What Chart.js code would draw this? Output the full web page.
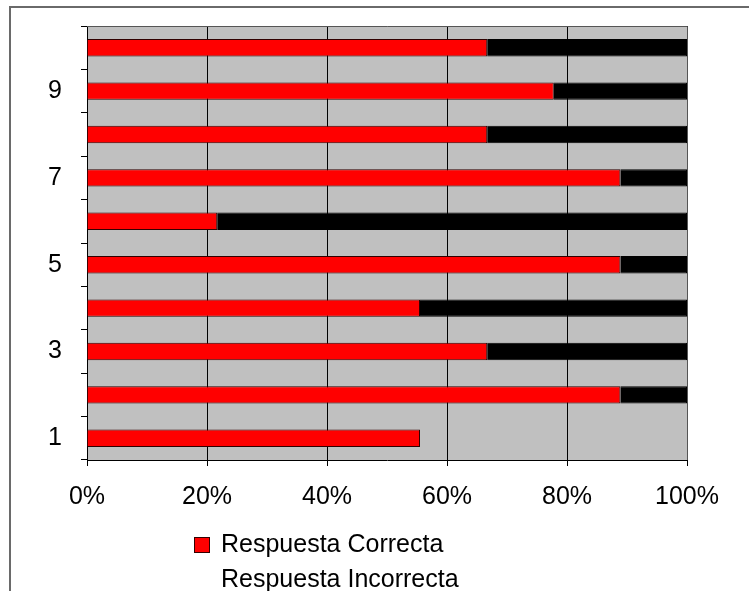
<!DOCTYPE html>
<html>
<head>
<meta charset="utf-8">
<script src="https://cdn.jsdelivr.net/npm/chart.js@4"></script>
<style>
  body { margin: 0; background: #fff; font-family: "Liberation Sans", Arial, sans-serif; }
  #wrap { position: relative; width: 749px; height: 591px; overflow: hidden; }
  #frame { position: absolute; left: 9px; top: 6px; width: 760px; height: 600px;
           border-top: 2px solid #6a6a6a; border-left: 2px solid #6a6a6a; }
  canvas { position: absolute; left: 0; top: 0; }
  .leg { position: absolute; left: 221px; font-size: 25px; color: #000; line-height: 35px; white-space: nowrap; }
  .box { position: absolute; left: 194px; top: 537px; width: 14px; height: 14px;
         background: #ff0000; border: 1px solid #300; }
</style>
</head>
<body>
<div id="wrap">
  <div id="frame"></div>
  <canvas id="chart" width="749" height="591"></canvas>
  <div class="box"></div>
  <div class="leg" style="top:526px">Respuesta Correcta</div>
  <div class="leg" style="top:561px">Respuesta Incorrecta</div>
</div>
<script>
var categories = ["1", "2", "3", "4", "5", "6", "7", "8", "9", "10"];
var correctas = [55.5, 88.9, 66.7, 55.5, 88.9, 21.7, 88.9, 66.7, 77.8, 66.7];
var incorrectas = [0, 11.1, 33.3, 44.5, 11.1, 78.3, 11.1, 33.3, 22.2, 33.3];
var xTicks = [0, 20, 40, 60, 80, 100];

var plotBg = {
    id: 'plotBg',
    beforeDraw: function (chart) {
        var a = chart.chartArea, ctx = chart.ctx;
        ctx.save();
        ctx.fillStyle = '#c0c0c0';
        ctx.fillRect(a.left, a.top, a.right - a.left, a.bottom - a.top);
        ctx.restore();
    },
    afterDatasetsDraw: function (chart) {
        var a = chart.chartArea, ctx = chart.ctx;
        ctx.save();
        ctx.strokeStyle = '#555';
        ctx.lineWidth = 1;
        ctx.beginPath();
        ctx.moveTo(a.left, a.top + 0.5);
        ctx.lineTo(a.right + 0.5, a.top + 0.5);
        ctx.lineTo(a.right + 0.5, a.bottom);
        ctx.stroke();
        ctx.restore();
    }
};

new Chart('chart', {
    type: 'bar',
    plugins: [plotBg],
    data: {
        labels: categories,
        datasets: [{
            label: "Respuesta Correcta",
            data: correctas,
            backgroundColor: "#ff0000",
            borderColor: "#300000",
            borderWidth: 1,
            barPercentage: 0.4,
            categoryPercentage: 1
        }, {
            label: "Respuesta Incorrecta",
            data: incorrectas,
            backgroundColor: "#000000",
            borderColor: "#000000",
            borderWidth: 1,
            barPercentage: 0.4,
            categoryPercentage: 1
        }]
    },
    options: {
        indexAxis: 'y',
        responsive: false,
        animation: false,
        layout: { padding: { left: 0, top: 26, right: 62, bottom: 71 } },
        scales: {
            x: {
                stacked: true,
                min: 0,
                max: 100,
                afterFit: function (s) { s.height = 60; s.paddingLeft = 0; s.paddingRight = 0; },
                afterBuildTicks: function (s) {
                    s.ticks = xTicks.map(function (v) { return { value: v }; });
                },
                grid: {
                    color: '#000',
                    lineWidth: 1,
                    tickLength: 6,
                    drawOnChartArea: true
                },
                border: { color: '#000', width: 1 },
                ticks: {
                    padding: 16,
                    color: '#000',
                    font: { family: 'Liberation Sans', size: 25 },
                    callback: function (v) { return v + '%'; }
                }
            },
            y: {
                stacked: true,
                reverse: true,
                afterFit: function (s) { s.width = 87; s.paddingTop = 0; s.paddingBottom = 0; },
                grid: {
                    offset: true,
                    drawOnChartArea: false,
                    color: '#000',
                    tickLength: 6
                },
                border: { color: '#000', width: 1 },
                ticks: {
                    padding: 19,
                    color: '#000',
                    font: { family: 'Liberation Sans', size: 25 },
                    callback: function (v, i) { return i % 2 === 0 ? categories[i] : ''; }
                }
            }
        },
        plugins: {
            legend: { display: false },
            tooltip: { enabled: false }
        }
    }
});
</script>
</body>
</html>
